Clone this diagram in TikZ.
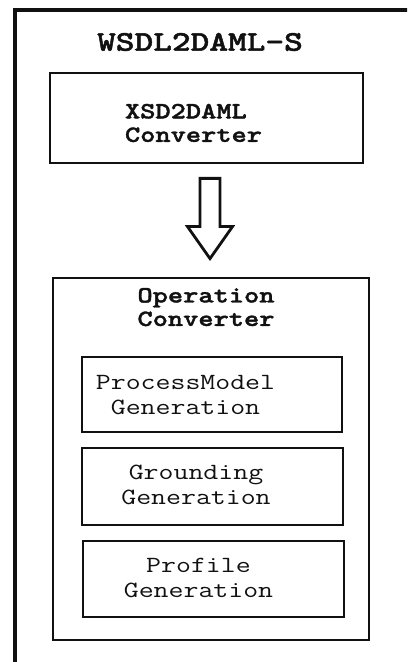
\documentclass[tikz,border=0pt]{standalone}
\usepackage{fontspec}
\newfontfamily\diamono[FakeStretch=1.25]{Latin Modern Mono}
\newfontfamily\diamonobf[FakeStretch=1.25, BoldFeatures={FakeBold=1.6}]{Latin Modern Mono Light}
\usepackage{tikz}
\usetikzlibrary{calc}
\definecolor{DiaInk}{HTML}{111111}
\tikzset{
  diatitle/.style={font=\diamonobf\bfseries\fontsize{14.25}{17}\selectfont, text=DiaInk, inner sep=0pt},
  diabold/.style={font=\diamonobf\bfseries\fontsize{11.6}{11.75}\selectfont, text=DiaInk, inner sep=0pt},
  diatext/.style={font=\diamono\fontsize{11.6}{12.5}\selectfont, text=DiaInk, inner sep=0pt, align=center},
  diabox/.style={draw=DiaInk, line width=1.4pt, inner sep=0pt},
  diaframe/.style={draw=DiaInk, line width=1.6pt, inner sep=0pt},
  diaarrow/.style={draw=DiaInk, line width=1.4pt, line join=miter, fill=white}
}

\begin{document}
\begin{tikzpicture}[x=0.5pt, y=-0.5pt]
\clip (0,0) rectangle (407,662);
% outer tool frame, runs off the page on the right and bottom
\node[diaframe, minimum width=207.5pt, minimum height=340pt] (tool) at (222.5,350) {};
\node[diatitle] (title) at (200,42) {WSDL2DAML-S};
\node[diabox, minimum width=156.5pt, minimum height=45pt] (xsd) at (206.5,118) {};
\node[diabold, align=left] (xsdtext) at ($(xsd)+(-13,5)$) {XSD2DAML\\Converter};
\node[diabox, minimum width=158pt, minimum height=181pt] (opconv) at (211,459) {};
\node[diabold, align=center] (optext) at ($(opconv.north)+(-5,30.5)$) {Operation\\Converter};
\node[diabox, minimum width=130pt, minimum height=37.5pt] (pm) at (212,394.5) {};
\node[diatext] (pmtext) at ($(pm)+(-26.5,1)$) {ProcessModel\\Generation};
\node[diabox, minimum width=130.5pt, minimum height=38.5pt] (ground) at (212.5,486.5) {};
\node[diatext] (groundtext) at ($(ground)+(-16.5,-2)$) {Grounding\\Generation};
\node[diabox, minimum width=130.5pt, minimum height=38pt] (prof) at (213.5,579) {};
\node[diatext] (proftext) at ($(prof)+(-15,-1)$) {Profile\\Generation};
% hollow block arrow between the two converters
\coordinate (arrtop) at ($(xsd.south)+(3.5,14)$);
\coordinate (arrtip) at ($(opconv.north)+(-1,-18)$);
\draw[diaarrow] ($(arrtop)+(-10,0)$) -- ($(arrtop)+(10,0)$) -- ($(arrtip)+(10,-32)$)
  -- ($(arrtip)+(22.5,-32)$) -- (arrtip) -- ($(arrtip)+(-22.5,-32)$) -- ($(arrtip)+(-10,-32)$) -- cycle;
\end{tikzpicture}
\end{document}
